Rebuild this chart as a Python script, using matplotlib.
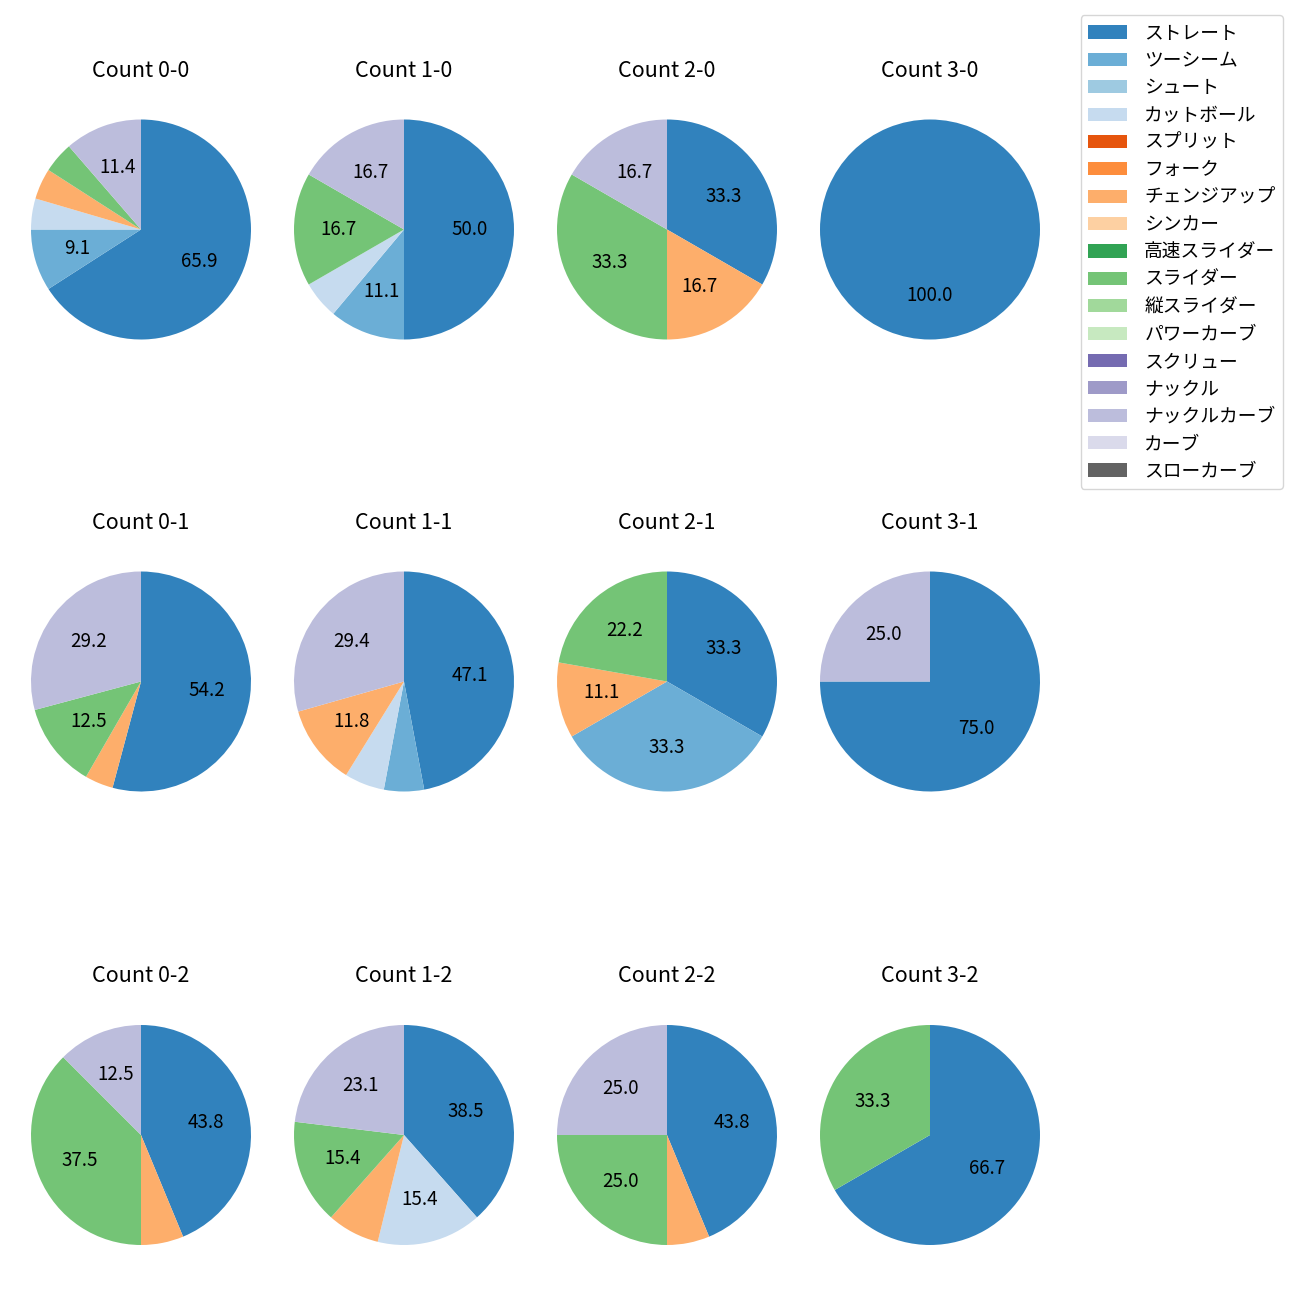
import matplotlib
matplotlib.use('Agg')
import matplotlib.pyplot as plt
from matplotlib.patches import Patch
import numpy as np

plt.rcParams['font.family'] = ['Noto Sans CJK JP', 'DejaVu Sans']

pitches = ['ストレート', 'ツーシーム', 'シュート', 'カットボール', 'スプリット', 'フォーク',
           'チェンジアップ', 'シンカー', '高速スライダー', 'スライダー', '縦スライダー',
           'パワーカーブ', 'スクリュー', 'ナックル', 'ナックルカーブ', 'カーブ', 'スローカーブ']

# pitch counts per ball-strike count, in the order of `pitches`
c_0_0 = [29, 4, 0, 2, 0, 0, 2, 0, 0, 2, 0, 0, 0, 0, 5, 0, 0]
c_1_0 = [9, 2, 0, 1, 0, 0, 0, 0, 0, 3, 0, 0, 0, 0, 3, 0, 0]
c_2_0 = [2, 0, 0, 0, 0, 0, 1, 0, 0, 2, 0, 0, 0, 0, 1, 0, 0]
c_3_0 = [1, 0, 0, 0, 0, 0, 0, 0, 0, 0, 0, 0, 0, 0, 0, 0, 0]
c_0_1 = [13, 0, 0, 0, 0, 0, 1, 0, 0, 3, 0, 0, 0, 0, 7, 0, 0]
c_1_1 = [8, 1, 0, 1, 0, 0, 2, 0, 0, 0, 0, 0, 0, 0, 5, 0, 0]
c_2_1 = [3, 3, 0, 0, 0, 0, 1, 0, 0, 2, 0, 0, 0, 0, 0, 0, 0]
c_3_1 = [3, 0, 0, 0, 0, 0, 0, 0, 0, 0, 0, 0, 0, 0, 1, 0, 0]
c_0_2 = [7, 0, 0, 0, 0, 0, 1, 0, 0, 6, 0, 0, 0, 0, 2, 0, 0]
c_1_2 = [5, 0, 0, 2, 0, 0, 1, 0, 0, 2, 0, 0, 0, 0, 3, 0, 0]
c_2_2 = [7, 0, 0, 0, 0, 0, 1, 0, 0, 4, 0, 0, 0, 0, 4, 0, 0]
c_3_2 = [2, 0, 0, 0, 0, 0, 0, 0, 0, 1, 0, 0, 0, 0, 0, 0, 0]

titles = ['Count 0-0', 'Count 1-0', 'Count 2-0', 'Count 3-0',
          'Count 0-1', 'Count 1-1', 'Count 2-1', 'Count 3-1',
          'Count 0-2', 'Count 1-2', 'Count 2-2', 'Count 3-2']
data = [c_0_0, c_1_0, c_2_0, c_3_0,
        c_0_1, c_1_1, c_2_1, c_3_1,
        c_0_2, c_1_2, c_2_2, c_3_2]

colors = [plt.cm.tab20c(i) for i in range(len(pitches))]

fig = plt.figure(figsize=(13, 13), dpi=100)

W = 1300.0
col_cx = [141, 404, 667, 930]
row_cy = [229.5, 681.5, 1135]
box = 275.0


def fmt(p):
    return f'{p:.1f}' if p >= 8 else ''


for i, (vals, title) in enumerate(zip(data, titles)):
    r, c = divmod(i, 4)
    cx, cy = col_cx[c], row_cy[r]
    ax = fig.add_axes([(cx - box / 2) / W, 1 - (cy + box / 2) / W, box / W, box / W])
    v = np.array(vals, dtype=float)
    keep = v > 0
    ax.pie(v[keep], colors=[col for col, k in zip(colors, keep) if k],
           startangle=90, counterclock=False, autopct=fmt,
           textprops={'fontsize': 13.5})
    ax.set_title(title, fontsize=15.5, pad=11)

handles = [Patch(facecolor=col) for col in colors]
fig.legend(handles, pitches, loc='upper right',
           bbox_to_anchor=(1283 / W, 1 - 15 / W), borderaxespad=0, fontsize=13.5,
           labelspacing=0.34, handlelength=2.1, handletextpad=0.9)

fig.savefig('out.png')
